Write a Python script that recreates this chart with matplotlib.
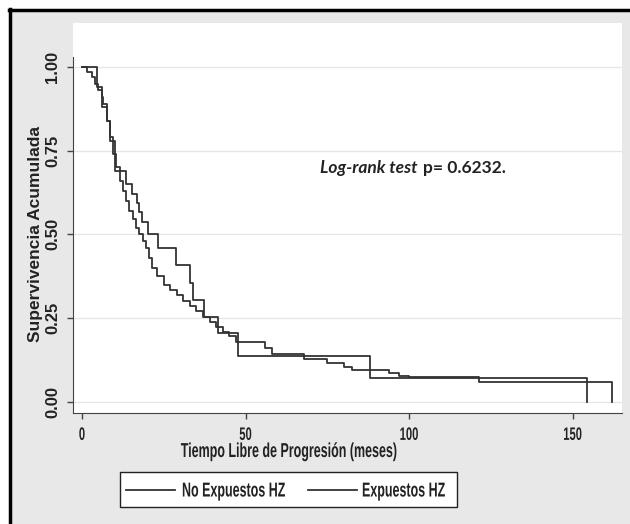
import matplotlib
matplotlib.use('Agg')
import matplotlib.pyplot as plt
from matplotlib.lines import Line2D
from matplotlib.patches import Rectangle
from matplotlib.patheffects import AbstractPathEffect
from matplotlib.transforms import Affine2D

# Kaplan-Meier curves (time in months, cumulative survival)
t_no_exp = [0, 1.5, 3, 4, 5, 6, 6.5, 7.5, 8.5, 9.5, 10.5, 11.5, 12.5, 13.5, 14.5,
            15.5, 16.5, 17.5, 18.5, 19.5, 20.5, 21.5, 23, 25, 27, 29, 31, 33, 35,
            37, 39, 41, 43, 45, 47, 56, 58, 68, 75, 80, 82.5, 94, 97, 100, 121.5, 162]
s_no_exp = [1.0, 0.985, 0.97, 0.95, 0.93, 0.91, 0.89, 0.84, 0.79, 0.74, 0.70, 0.66,
            0.63, 0.60, 0.57, 0.545, 0.52, 0.50, 0.48, 0.46, 0.43, 0.40, 0.375, 0.35,
            0.335, 0.318, 0.30, 0.285, 0.27, 0.255, 0.24, 0.225, 0.21, 0.197, 0.18,
            0.16, 0.143, 0.128, 0.116, 0.105, 0.096, 0.086, 0.076, 0.073, 0.060, 0.0]

t_exp = [0, 4.5, 6.0, 7.5, 8.6, 10.1, 13.5, 15.4, 16.7, 17.5, 18.3, 20.3, 23.3,
         28.7, 33.0, 34.0, 37.3, 41.7, 47.8, 88.0, 154.3]
s_exp = [1.0, 0.94, 0.88, 0.84, 0.78, 0.69, 0.65, 0.62, 0.593, 0.568, 0.538, 0.50,
         0.458, 0.41, 0.354, 0.304, 0.255, 0.205, 0.137, 0.07, 0.0]

xticks = [0, 50, 100, 150]
yticks = [0.0, 0.25, 0.50, 0.75, 1.00]
ytick_labels = ['0.00', '0.25', '0.50', '0.75', '1.00']
labels = ['No Expuestos HZ', 'Expuestos HZ']

W, H = 630, 524
SX = 0.62          # the original's horizontal text is narrow
font = ['Liberation Sans', 'DejaVu Sans']
ink = '#222222'


class SqueezeX(AbstractPathEffect):
    """Draw text glyphs compressed horizontally around pixel column cx."""
    def __init__(self, cx, sx=SX):
        super().__init__()
        self.cx, self.sx = cx, sx

    def draw_path(self, renderer, gc, tpath, affine, rgbFace=None):
        sq = Affine2D().translate(-self.cx, 0).scale(self.sx, 1).translate(self.cx, 0)
        renderer.draw_path(gc, tpath, affine + sq, rgbFace)


def ftext(x, y, s, squeeze=True, **kw):
    # x, y in picture pixels from the top-left corner
    t = fig.text(x / W, 1 - y / H, s, family=font, color=ink, **kw)
    if squeeze:
        t.set_path_effects([SqueezeX(x)])
    return t


fig = plt.figure(figsize=(W / 100, H / 100), dpi=100)
fig.patch.set_facecolor('white')

# grey graph region with black frame on left/top
fig.patches.append(Rectangle((10 / W, 0), 1, 1 - 10 / H, transform=fig.transFigure,
                             facecolor='#e8e8e8', edgecolor='none', zorder=-2))
fig.lines.append(Line2D([10 / W, 10 / W], [0, 1 - 9 / H], transform=fig.transFigure,
                        color='black', lw=2.5, zorder=-1))
fig.lines.append(Line2D([9 / W, 1], [1 - 10 / H, 1 - 10 / H], transform=fig.transFigure,
                        color='black', lw=2.5, zorder=-1))

ax = fig.add_axes([73 / W, 1 - 413 / H, (622 - 73) / W, (413 - 23) / H])
ax.set_zorder(1)
ax.set_facecolor('white')

ax.step(t_no_exp, s_no_exp, where='post', color='#333333', lw=1.3, label=labels[0])
ax.step(t_exp, s_exp, where='post', color='#333333', lw=1.3, label=labels[1])

ax.set_xlim(-2.75, 165.1)
ax.set_ylim(-0.033, 1.131)

for y in yticks:
    ax.axhline(y, color='#e6e6e6', lw=1.0, zorder=0)

for side in ['top', 'right']:
    ax.spines[side].set_visible(False)
ax.spines['left'].set_color('#444444')
ax.spines['bottom'].set_color('#444444')
ax.spines['left'].set_bounds(-0.033, 1.03)

ax.set_xticks(xticks)
ax.set_xticklabels([str(x) for x in xticks], family=font, fontsize=13,
                   fontweight='bold', color=ink)
ax.set_yticks(yticks)
ax.set_yticklabels(ytick_labels, family=font, fontsize=12, fontweight='bold',
                   rotation=90, va='center', color=ink)
ax.tick_params(axis='x', length=4, width=1, color='#444444', pad=6)
ax.tick_params(axis='y', length=4, width=1, color='#444444', pad=5)

for x, lab in zip(xticks, ax.get_xticklabels()):
    lab.set_path_effects([SqueezeX(ax.transData.transform((x, 0))[0])])

ftext(289, 457, 'Tiempo Libre de Progresión (meses)', fontsize=14.5, fontweight='bold',
      ha='center', va='baseline')
ftext(36, 234, 'Supervivencia Acumulada', squeeze=False, fontsize=12.5,
      fontweight='bold', rotation=90, ha='center', va='center')

fig.text(320 / W, 1 - 168 / H, 'Log-rank test', family=['Lato', 'DejaVu Sans'],
         style='italic', fontweight='bold', fontsize=12.5, ha='left', va='center', color=ink)
fig.text(423 / W, 1 - 168 / H, 'p= 0.6232.', family=['Lato', 'DejaVu Sans'],
         fontweight='bold', fontsize=12.5, ha='left', va='center', color=ink)

# legend box drawn the way the original lays it out
fig.patches.append(Rectangle((120 / W, 1 - 507 / H), 337 / W, 35 / H, transform=fig.transFigure,
                             facecolor='white', edgecolor=ink, lw=1.0, zorder=2))
for (x0, x1, xt), lab in zip([(126, 175, 182), (308, 357, 362)], labels):
    fig.lines.append(Line2D([x0 / W, x1 / W], [1 - 489.5 / H] * 2, transform=fig.transFigure,
                            color='#333333', lw=1.3, zorder=3))
    ftext(xt, 496.5, lab, fontsize=14.5, fontweight='bold', ha='left', va='baseline', zorder=3)

fig.savefig('out.png', dpi=100)
